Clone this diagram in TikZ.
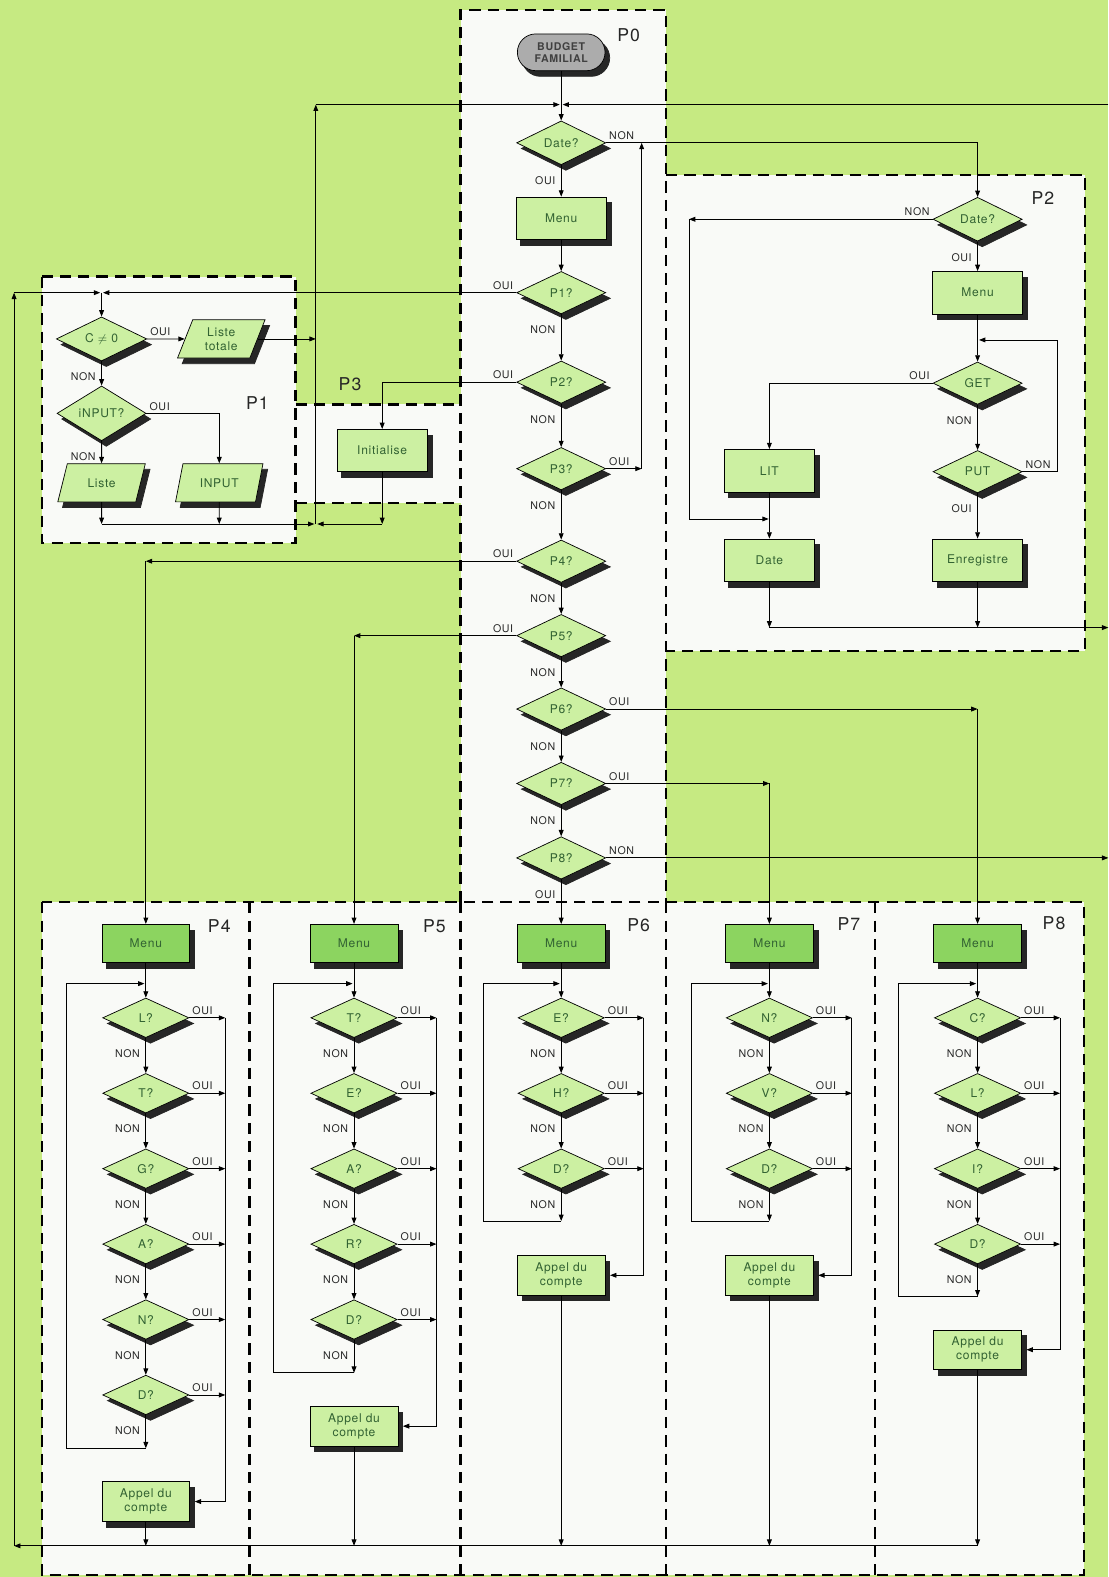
\documentclass[tikz,border=0pt]{standalone}
\usepackage{fontspec}
\newfontfamily\flowfont{TeX Gyre Heros}[LetterSpace=6.0]
\usepackage{tikz}
\usetikzlibrary{shapes.geometric, shapes.misc, arrows.meta}
\definecolor{PageGreen}{RGB}{198, 234, 130}
\definecolor{PanelWhite}{RGB}{249, 250, 247}
\definecolor{BoxGreen}{RGB}{204, 240, 162}
\definecolor{MenuGreen}{RGB}{140, 212, 96}
\definecolor{InkGreen}{RGB}{50, 98, 50}
\definecolor{StartGray}{RGB}{172, 172, 172}
\definecolor{ShadeInk}{RGB}{38, 38, 38}

\begin{document}
\begin{tikzpicture}[x=0.025cm, y=-0.025cm,
    arr/.style={line width=0.6pt, -{Triangle[length=4.5pt, width=3.4pt]}},
    shade3d/.style={preaction={draw=ShadeInk, fill=ShadeInk,
        transform canvas={shift={(3.3pt,-4pt)}}}},
    box/.style={rectangle, draw, line width=0.5pt, fill=BoxGreen, text=InkGreen,
        font=\flowfont\fontsize{8.5}{10}\selectfont, align=center, inner sep=1pt,
        minimum width=64pt, minimum height=30pt, shade3d},
    menubox/.style={box, fill=MenuGreen, minimum width=62pt, minimum height=27pt},
    callbox/.style={box, minimum width=62pt, minimum height=28pt},
    test/.style={diamond, draw, line width=0.5pt, fill=BoxGreen, text=InkGreen,
        font=\flowfont\fontsize{8.5}{10}\selectfont, inner sep=0pt,
        minimum width=63pt, minimum height=30pt, shade3d},
    smalltest/.style={test, minimum width=61pt, minimum height=28pt},
    io/.style={trapezium, trapezium left angle=70, trapezium right angle=110,
        trapezium stretches=true, draw, line width=0.5pt, fill=BoxGreen, text=InkGreen,
        font=\flowfont\fontsize{8.5}{10}\selectfont, align=center, inner sep=1pt,
        minimum width=62pt, minimum height=27pt, shade3d},
    terminal/.style={rounded rectangle, draw, line width=0.5pt, fill=StartGray, text=black!75,
        font=\flowfont\bfseries\fontsize{7.5}{8.5}\selectfont, align=center, inner sep=1pt,
        minimum width=64pt, minimum height=26pt, shade3d},
    lbl/.style={font=\flowfont\fontsize{7.5}{9}\selectfont, text=black!85, inner sep=1pt},
    downlbl/.style={lbl, anchor=north east, xshift=-3pt, yshift=-7pt},
    rightlbl/.style={lbl, anchor=south west, xshift=1pt, yshift=1pt},
    leftlbl/.style={lbl, anchor=south east, xshift=-1pt, yshift=1pt},
    ptitle/.style={font=\flowfont\fontsize{12.5}{14}\selectfont, text=black!85},
    pframe/.style={line width=1.7pt, dash pattern=on 8pt off 5pt},
  ]
    % Page: green round the panels, light panels inside
    \useasboundingbox (0,0) rectangle (1102,1568);
    \fill[PageGreen] (0,0) rectangle (1102,1568);
    \fill[PanelWhite] (458,10) rectangle (662,897);
    \fill[PanelWhite] (42,275) rectangle (294,540);
    \fill[PanelWhite] (294,402) rectangle (458,500);
    \fill[PanelWhite] (662,174) rectangle (1079,647);
    \fill[PanelWhite] (42,897) rectangle (1078,1566);

    % Dashed frames
    \draw[pframe] (458,897) -- (458,10) -- (662,10) -- (662,897);
    \draw[pframe] (42,275) rectangle (294,540);
    \draw[pframe] (294,402) -- (458,402);
    \draw[pframe] (294,500) -- (458,500);
    \draw[pframe] (662,174) -- (1079,174) -- (1079,647) -- (662,647);
    \draw[pframe] (42,897) rectangle (1078,1566);
    \draw[pframe] (248,897) -- (248,1566);
    \draw[pframe] (458,897) -- (458,1566);
    \draw[pframe] (662,897) -- (662,1566);
    \draw[pframe] (870,897) -- (870,1566);

    % Titles
    \node[ptitle] (tp0) at (625,35) {P0};
    \node[ptitle] (tp1) at (256,401) {P1};
    \node[ptitle] (tp2) at (1037,197) {P2};
    \node[ptitle] (tp3) at (348,382) {P3};
    \node[ptitle] (tp4) at (218,921) {P4};
    \node[ptitle] (tp5) at (432,921) {P5};
    \node[ptitle] (tp6) at (635,920) {P6};
    \node[ptitle] (tp7) at (844,919) {P7};
    \node[ptitle] (tp8) at (1048,918) {P8};

    % P0
    \node[terminal] (budget) at (558,52) {BUDGET\\FAMILIAL};
    \node[test] (date0) at (558,142) {Date?};
    \node[box] (menu0) at (558,217) {Menu};
    \node[test] (q1) at (558,291) {P1?};
    \node[test] (q2) at (558,380) {P2?};
    \node[test] (q3) at (558,466) {P3?};
    \node[test] (q4) at (558,558) {P4?};
    \node[test] (q5) at (558,632) {P5?};
    \node[test] (q6) at (558,705) {P6?};
    \node[test] (q7) at (558,779) {P7?};
    \node[test] (q8) at (558,853) {P8?};

    \node[rightlbl] (date0no) at (date0.east) {NON};
    \node[downlbl] (date0yes) at (date0.south) {OUI};
    \node[leftlbl] (q1yes) at (q1.west) {OUI};
    \node[downlbl] (q1no) at (q1.south) {NON};
    \node[leftlbl] (q2yes) at (q2.west) {OUI};
    \node[downlbl] (q2no) at (q2.south) {NON};
    \node[rightlbl] (q3yes) at (q3.east) {OUI};
    \node[downlbl] (q3no) at (q3.south) {NON};
    \node[leftlbl] (q4yes) at (q4.west) {OUI};
    \node[downlbl] (q4no) at (q4.south) {NON};
    \node[leftlbl] (q5yes) at (q5.west) {OUI};
    \node[downlbl] (q5no) at (q5.south) {NON};
    \node[rightlbl] (q6yes) at (q6.east) {OUI};
    \node[downlbl] (q6no) at (q6.south) {NON};
    \node[rightlbl] (q7yes) at (q7.east) {OUI};
    \node[downlbl] (q7no) at (q7.south) {NON};
    \node[rightlbl] (q8no) at (q8.east) {NON};
    \node[downlbl] (q8yes) at (q8.south) {OUI};

    % P1
    \node[test, minimum width=64pt] (cnz) at (101,337) {C \(\neq\) 0};
    \node[io] (total) at (220,337) {Liste\\totale};
    \node[test] (inq) at (101,411) {iNPUT?};
    \node[io] (liste) at (101,480) {Liste};
    \node[io] (input) at (218,480) {INPUT};
    \node[rightlbl] (cnzyes) at (cnz.east) {OUI};
    \node[downlbl] (cnzno) at (cnz.south) {NON};
    \node[rightlbl] (inqyes) at (inq.east) {OUI};
    \node[downlbl] (inqno) at (inq.south) {NON};

    % P3
    \node[box] (init) at (380,448) {Initialise};

    % P2
    \node[test] (date2) at (972,218) {Date?};
    \node[box] (menu2) at (972,291) {Menu};
    \node[test] (get) at (972,381) {GET};
    \node[test] (put) at (972,469) {PUT};
    \node[box] (lit) at (765,468) {LIT};
    \node[box] (datebox) at (765,557) {Date};
    \node[box] (save) at (972,557) {Enregistre};
    \node[leftlbl] (date2no) at (date2.west) {NON};
    \node[downlbl] (date2yes) at (date2.south) {OUI};
    \node[leftlbl] (getyes) at (get.west) {OUI};
    \node[downlbl] (getno) at (get.south) {NON};
    \node[rightlbl] (putno) at (put.east) {NON};
    \node[downlbl] (putyes) at (put.south) {OUI};

    % P4
    \node[menubox] (menu4) at (145,938) {Menu};
    \node[smalltest] (p4l) at (145,1012) {L?};
    \node[smalltest] (p4t) at (145,1087) {T?};
    \node[smalltest] (p4g) at (145,1162) {G?};
    \node[smalltest] (p4a) at (145,1237) {A?};
    \node[smalltest] (p4n) at (145,1312) {N?};
    \node[smalltest] (p4d) at (145,1387) {D?};
    \node[callbox] (call4) at (145,1493) {Appel du\\compte};
    \node[rightlbl] (p4lyes) at (p4l.east) {OUI};
    \node[rightlbl] (p4tyes) at (p4t.east) {OUI};
    \node[rightlbl] (p4gyes) at (p4g.east) {OUI};
    \node[rightlbl] (p4ayes) at (p4a.east) {OUI};
    \node[rightlbl] (p4nyes) at (p4n.east) {OUI};
    \node[rightlbl] (p4dyes) at (p4d.east) {OUI};
    \node[downlbl] (p4lno) at (p4l.south) {NON};
    \node[downlbl] (p4tno) at (p4t.south) {NON};
    \node[downlbl] (p4gno) at (p4g.south) {NON};
    \node[downlbl] (p4ano) at (p4a.south) {NON};
    \node[downlbl] (p4nno) at (p4n.south) {NON};
    \node[downlbl] (p4dno) at (p4d.south) {NON};

    % P5
    \node[menubox] (menu5) at (352,938) {Menu};
    \node[smalltest] (p5t) at (352,1012) {T?};
    \node[smalltest] (p5e) at (352,1087) {E?};
    \node[smalltest] (p5a) at (352,1162) {A?};
    \node[smalltest] (p5r) at (352,1237) {R?};
    \node[smalltest] (p5d) at (352,1312) {D?};
    \node[callbox] (call5) at (352,1418) {Appel du\\compte};
    \node[rightlbl] (p5tyes) at (p5t.east) {OUI};
    \node[rightlbl] (p5eyes) at (p5e.east) {OUI};
    \node[rightlbl] (p5ayes) at (p5a.east) {OUI};
    \node[rightlbl] (p5ryes) at (p5r.east) {OUI};
    \node[rightlbl] (p5dyes) at (p5d.east) {OUI};
    \node[downlbl] (p5tno) at (p5t.south) {NON};
    \node[downlbl] (p5eno) at (p5e.south) {NON};
    \node[downlbl] (p5ano) at (p5a.south) {NON};
    \node[downlbl] (p5rno) at (p5r.south) {NON};
    \node[downlbl] (p5dno) at (p5d.south) {NON};

    % P6
    \node[menubox] (menu6) at (558,938) {Menu};
    \node[smalltest] (p6e) at (558,1012) {E?};
    \node[smalltest] (p6h) at (558,1087) {H?};
    \node[smalltest] (p6d) at (558,1162) {D?};
    \node[callbox] (call6) at (558,1268) {Appel du\\compte};
    \node[rightlbl] (p6eyes) at (p6e.east) {OUI};
    \node[rightlbl] (p6hyes) at (p6h.east) {OUI};
    \node[rightlbl] (p6dyes) at (p6d.east) {OUI};
    \node[downlbl] (p6eno) at (p6e.south) {NON};
    \node[downlbl] (p6hno) at (p6h.south) {NON};
    \node[downlbl] (p6dno) at (p6d.south) {NON};

    % P7
    \node[menubox] (menu7) at (765,938) {Menu};
    \node[smalltest] (p7n) at (765,1012) {N?};
    \node[smalltest] (p7v) at (765,1087) {V?};
    \node[smalltest] (p7d) at (765,1162) {D?};
    \node[callbox] (call7) at (765,1268) {Appel du\\compte};
    \node[rightlbl] (p7nyes) at (p7n.east) {OUI};
    \node[rightlbl] (p7vyes) at (p7v.east) {OUI};
    \node[rightlbl] (p7dyes) at (p7d.east) {OUI};
    \node[downlbl] (p7nno) at (p7n.south) {NON};
    \node[downlbl] (p7vno) at (p7v.south) {NON};
    \node[downlbl] (p7dno) at (p7d.south) {NON};

    % P8
    \node[menubox] (menu8) at (972,938) {Menu};
    \node[smalltest] (p8c) at (972,1012) {C?};
    \node[smalltest] (p8l) at (972,1087) {L?};
    \node[smalltest] (p8i) at (972,1162) {I?};
    \node[smalltest] (p8d) at (972,1237) {D?};
    \node[callbox] (call8) at (972,1342) {Appel du\\compte};
    \node[rightlbl] (p8cyes) at (p8c.east) {OUI};
    \node[rightlbl] (p8lyes) at (p8l.east) {OUI};
    \node[rightlbl] (p8iyes) at (p8i.east) {OUI};
    \node[rightlbl] (p8dyes) at (p8d.east) {OUI};
    \node[downlbl] (p8cno) at (p8c.south) {NON};
    \node[downlbl] (p8lno) at (p8l.south) {NON};
    \node[downlbl] (p8ino) at (p8i.south) {NON};
    \node[downlbl] (p8dno) at (p8d.south) {NON};

    % Junction points
    \coordinate (join0) at (558,104);
    \coordinate (left0) at (314,104);
    \coordinate (right0) at (1102,104);
    \coordinate (up3) at (638,466);
    \coordinate (up0) at (638,142);
    \coordinate (join1) at (101,291);
    \coordinate (lefttop) at (14,291);
    \coordinate (leftbot) at (14,1537);
    \coordinate (back1) at (314,521);
    \coordinate (drop1a) at (101,521);
    \coordinate (drop1b) at (218,521);
    \coordinate (drop3) at (380,521);
    \coordinate (turn4) at (145,558);
    \coordinate (turn5) at (352,632);
    \coordinate (turn6) at (972,705);
    \coordinate (turn7) at (765,779);
    \coordinate (edge8) at (1102,853);
    \coordinate (loop2a) at (1051,469);
    \coordinate (loop2b) at (1051,338);
    \coordinate (loop2c) at (972,338);
    \coordinate (skip2a) at (685,218);
    \coordinate (skip2b) at (685,516);
    \coordinate (skip2c) at (765,516);
    \coordinate (exit2a) at (765,624);
    \coordinate (exit2b) at (972,624);
    \coordinate (exit2c) at (1102,624);

    % P0 connectors
    \draw[arr] (budget.south) -- (date0.north);
    \draw[arr, shorten >=1pt] (right0) -- (join0);
    \draw[arr, shorten >=1pt] (left0) -- (join0);
    \draw[arr] (date0.south) -- (menu0.north);
    \draw[arr] (menu0.south) -- (q1.north);
    \draw[arr] (q1.south) -- (q2.north);
    \draw[arr] (q2.south) -- (q3.north);
    \draw[arr] (q3.south) -- (q4.north);
    \draw[arr] (q4.south) -- (q5.north);
    \draw[arr] (q5.south) -- (q6.north);
    \draw[arr] (q6.south) -- (q7.north);
    \draw[arr] (q7.south) -- (q8.north);
    \draw[arr] (date0.east) -| (date2.north);
    \draw[arr] (q3.east) -- (up3);
    \draw[arr] (up3) -- (up0);
    \draw[arr, shorten >=1pt] (q1.west) -- (join1);
    \draw[arr] (q2.west) -| (init.north);
    \draw[arr] (q4.west) -- (turn4);
    \draw[arr] (turn4) -- (menu4.north);
    \draw[arr] (q5.west) -- (turn5);
    \draw[arr] (turn5) -- (menu5.north);
    \draw[arr] (q6.east) -- (turn6);
    \draw[arr] (turn6) -- (menu8.north);
    \draw[arr] (q7.east) -- (turn7);
    \draw[arr] (turn7) -- (menu7.north);
    \draw[arr] (q8.east) -- (edge8);
    \draw[arr] (q8.south) -- (menu6.north);

    % P1 and P3 connectors
    \draw[arr] (join1) -- (cnz.north);
    \draw[arr] (cnz.east) -- (total.west);
    \draw[arr] (total.east) -- (total.east -| back1);
    \draw[arr] (cnz.south) -- (inq.north);
    \draw[arr] (inq.east) -| (input.north);
    \draw[arr] (inq.south) -- (liste.north);
    \draw[arr] (liste.south) -- (drop1a);
    \draw[arr] (input.south) -- (drop1b);
    \draw[arr, shorten >=1pt] (drop1a) -- (back1);
    \draw[arr] (init.south) -- (drop3);
    \draw[arr, shorten >=1pt] (drop3) -- (back1);
    \draw[arr] (back1) -- (left0);

    % P2 connectors
    \draw[arr] (date2.south) -- (menu2.north);
    \draw[arr] (menu2.south) -- (get.north);
    \draw[arr] (get.south) -- (put.north);
    \draw[arr] (put.south) -- (save.north);
    \draw[arr, shorten >=1pt] (put.east) -- (loop2a) -- (loop2b) -- (loop2c);
    \draw[arr] (get.west) -| (lit.north);
    \draw[arr] (lit.south) -- (datebox.north);
    \draw[arr] (date2.west) -- (skip2a);
    \draw[arr, shorten >=0.5pt] (skip2a) -- (skip2b) -- (skip2c);
    \draw[arr] (datebox.south) -- (exit2a);
    \draw[arr] (save.south) -- (exit2b);
    \draw[arr] (exit2a) -- (exit2c);

    % P4 connectors
    \coordinate (in4) at (145,978);
    \coordinate (back4) at (145,1440);
    \coordinate (lb4) at (66,1440);
    \coordinate (lt4) at (66,978);
    \coordinate (yes4) at (224,1493);
    \coordinate (out4) at (145,1537);
    \draw[arr] (menu4.south) -- (p4l.north);
    \draw[arr] (p4l.south) -- (p4t.north);
    \draw[arr] (p4t.south) -- (p4g.north);
    \draw[arr] (p4g.south) -- (p4a.north);
    \draw[arr] (p4a.south) -- (p4n.north);
    \draw[arr] (p4n.south) -- (p4d.north);
    \draw[arr] (p4d.south) -- (back4);
    \draw[arr, shorten >=1pt] (back4) -- (lb4) -- (lt4) -- (in4);
    \draw[arr] (p4l.east) -- (p4l.east -| yes4);
    \draw[arr] (p4t.east) -- (p4t.east -| yes4);
    \draw[arr] (p4g.east) -- (p4g.east -| yes4);
    \draw[arr] (p4a.east) -- (p4a.east -| yes4);
    \draw[arr] (p4n.east) -- (p4n.east -| yes4);
    \draw[arr] (p4d.east) -- (p4d.east -| yes4);
    \draw[arr] (p4l.east -| yes4) -- (yes4) -- ([xshift=3.3pt]call4.east);
    \draw[arr] (call4.south) -- (out4);

    % P5 connectors
    \coordinate (in5) at (352,978);
    \coordinate (back5) at (352,1365);
    \coordinate (lb5) at (272,1365);
    \coordinate (lt5) at (272,978);
    \coordinate (yes5) at (434,1418);
    \coordinate (out5) at (352,1537);
    \draw[arr] (menu5.south) -- (p5t.north);
    \draw[arr] (p5t.south) -- (p5e.north);
    \draw[arr] (p5e.south) -- (p5a.north);
    \draw[arr] (p5a.south) -- (p5r.north);
    \draw[arr] (p5r.south) -- (p5d.north);
    \draw[arr] (p5d.south) -- (back5);
    \draw[arr, shorten >=1pt] (back5) -- (lb5) -- (lt5) -- (in5);
    \draw[arr] (p5t.east) -- (p5t.east -| yes5);
    \draw[arr] (p5e.east) -- (p5e.east -| yes5);
    \draw[arr] (p5a.east) -- (p5a.east -| yes5);
    \draw[arr] (p5r.east) -- (p5r.east -| yes5);
    \draw[arr] (p5d.east) -- (p5d.east -| yes5);
    \draw[arr] (p5t.east -| yes5) -- (yes5) -- ([xshift=3.3pt]call5.east);
    \draw[arr] (call5.south) -- (out5);

    % P6 connectors
    \coordinate (in6) at (558,978);
    \coordinate (back6) at (558,1214);
    \coordinate (lb6) at (481,1214);
    \coordinate (lt6) at (481,978);
    \coordinate (yes6) at (640,1268);
    \coordinate (out6) at (558,1537);
    \draw[arr] (menu6.south) -- (p6e.north);
    \draw[arr] (p6e.south) -- (p6h.north);
    \draw[arr] (p6h.south) -- (p6d.north);
    \draw[arr] (p6d.south) -- (back6);
    \draw[arr, shorten >=1pt] (back6) -- (lb6) -- (lt6) -- (in6);
    \draw[arr] (p6e.east) -- (p6e.east -| yes6);
    \draw[arr] (p6h.east) -- (p6h.east -| yes6);
    \draw[arr] (p6d.east) -- (p6d.east -| yes6);
    \draw[arr] (p6e.east -| yes6) -- (yes6) -- ([xshift=3.3pt]call6.east);
    \draw[arr] (call6.south) -- (out6);

    % P7 connectors
    \coordinate (in7) at (765,978);
    \coordinate (back7) at (765,1214);
    \coordinate (lb7) at (687,1214);
    \coordinate (lt7) at (687,978);
    \coordinate (yes7) at (847,1268);
    \coordinate (out7) at (765,1537);
    \draw[arr] (menu7.south) -- (p7n.north);
    \draw[arr] (p7n.south) -- (p7v.north);
    \draw[arr] (p7v.south) -- (p7d.north);
    \draw[arr] (p7d.south) -- (back7);
    \draw[arr, shorten >=1pt] (back7) -- (lb7) -- (lt7) -- (in7);
    \draw[arr] (p7n.east) -- (p7n.east -| yes7);
    \draw[arr] (p7v.east) -- (p7v.east -| yes7);
    \draw[arr] (p7d.east) -- (p7d.east -| yes7);
    \draw[arr] (p7n.east -| yes7) -- (yes7) -- ([xshift=3.3pt]call7.east);
    \draw[arr] (call7.south) -- (out7);

    % P8 connectors
    \coordinate (in8) at (972,978);
    \coordinate (back8) at (972,1289);
    \coordinate (lb8) at (893,1289);
    \coordinate (lt8) at (893,978);
    \coordinate (yes8) at (1054,1342);
    \coordinate (out8) at (972,1537);
    \draw[arr] (menu8.south) -- (p8c.north);
    \draw[arr] (p8c.south) -- (p8l.north);
    \draw[arr] (p8l.south) -- (p8i.north);
    \draw[arr] (p8i.south) -- (p8d.north);
    \draw[arr] (p8d.south) -- (back8);
    \draw[arr, shorten >=1pt] (back8) -- (lb8) -- (lt8) -- (in8);
    \draw[arr] (p8c.east) -- (p8c.east -| yes8);
    \draw[arr] (p8l.east) -- (p8l.east -| yes8);
    \draw[arr] (p8i.east) -- (p8i.east -| yes8);
    \draw[arr] (p8d.east) -- (p8d.east -| yes8);
    \draw[arr] (p8c.east -| yes8) -- (yes8) -- ([xshift=3.3pt]call8.east);
    \draw[arr] (call8.south) -- (out8);

    % Return line
    \draw[arr] (out8) -- (leftbot);
    \draw[arr] (leftbot) -- (lefttop);
    \draw[arr, shorten >=1pt] (lefttop) -- (join1);
  \end{tikzpicture}
\end{document}
